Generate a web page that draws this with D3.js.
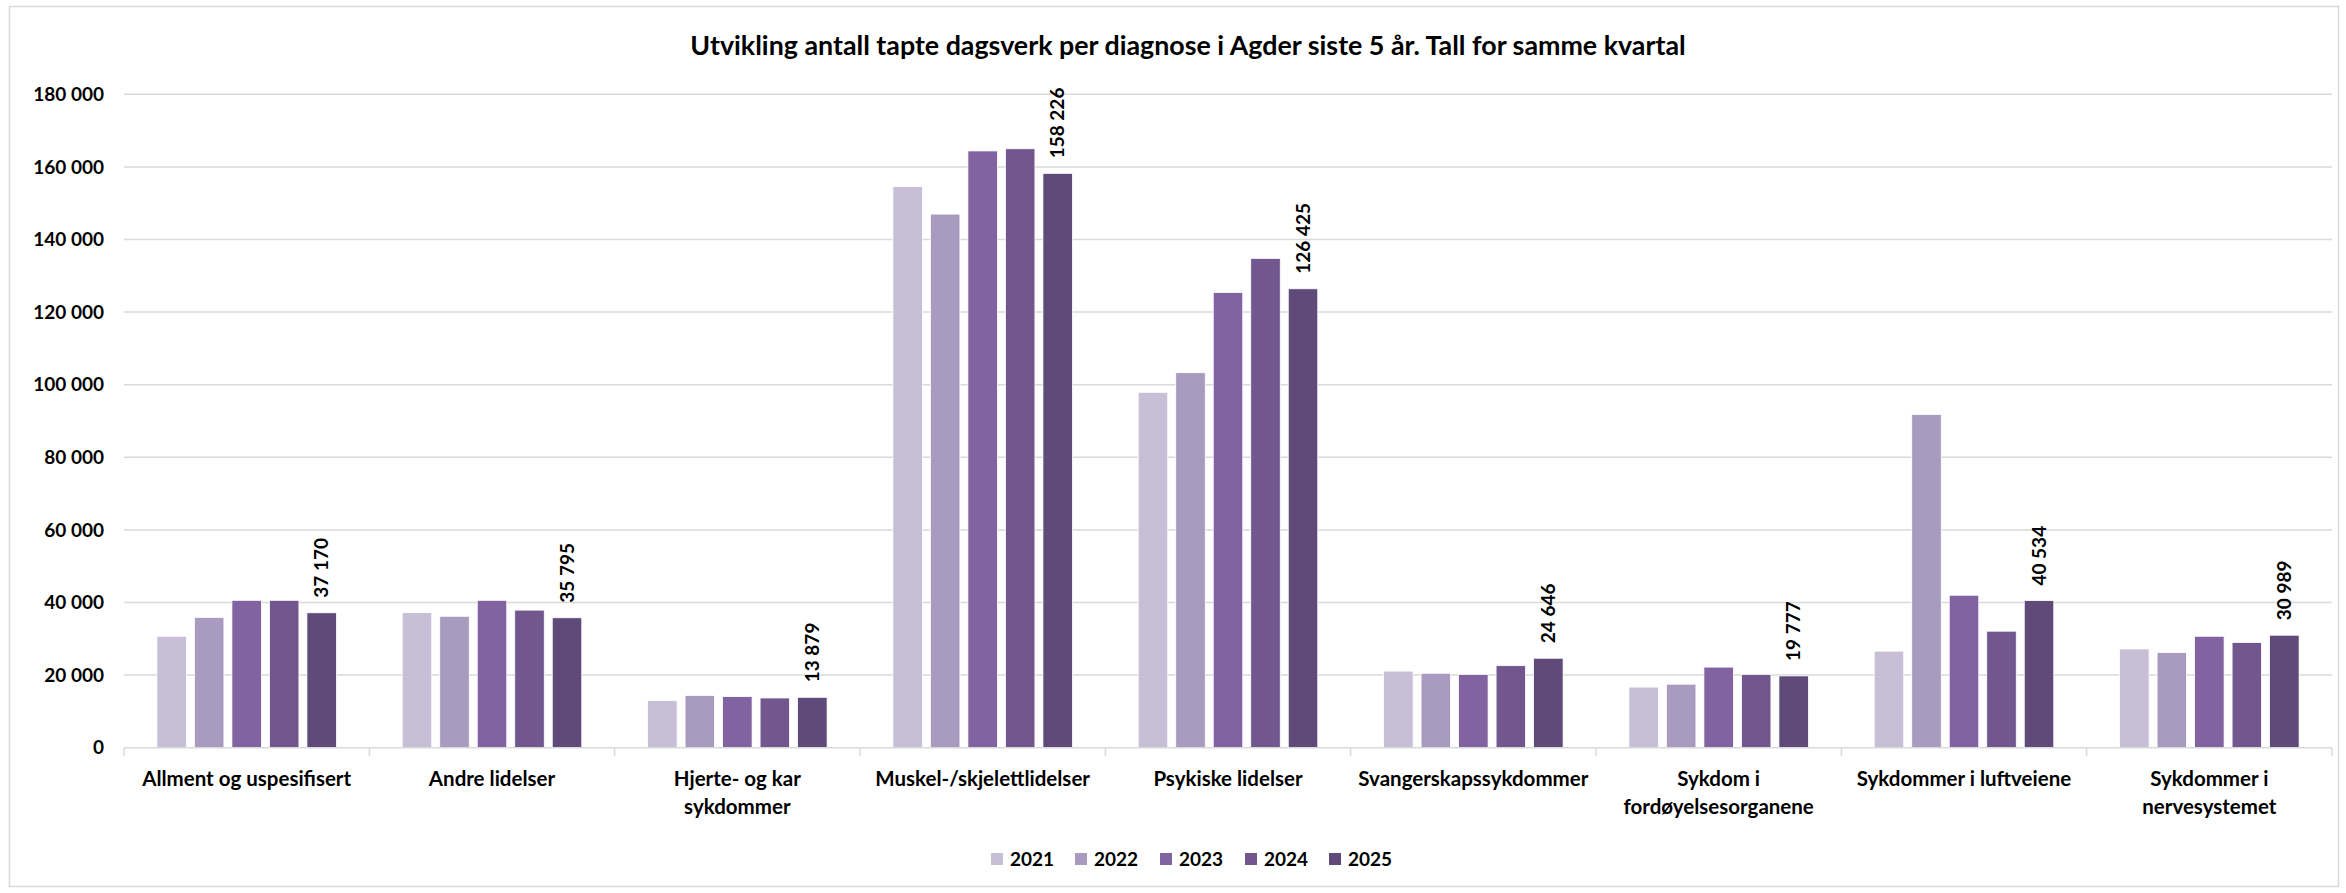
<!DOCTYPE html>
<html><head><meta charset="utf-8">
<script src="https://cdn.jsdelivr.net/npm/d3@7"></script>
<style>
html,body{margin:0;padding:0;background:#fff;}
svg{display:block;}
</style></head>
<body>
<script>
const title = "Utvikling antall tapte dagsverk per diagnose i Agder siste 5 år. Tall for samme kvartal";
const categories = ["Allment og uspesifisert","Andre lidelser","Hjerte- og kar sykdommer","Muskel-/skjelettlidelser","Psykiske lidelser","Svangerskapssykdommer","Sykdom i fordøyelsesorganene","Sykdommer i luftveiene","Sykdommer i nervesystemet"];
const categoryLines = [["Allment og uspesifisert"],["Andre lidelser"],["Hjerte- og kar","sykdommer"],["Muskel-/skjelettlidelser"],["Psykiske lidelser"],["Svangerskapssykdommer"],["Sykdom i","fordøyelsesorganene"],["Sykdommer i luftveiene"],["Sykdommer i","nervesystemet"]];
const years = ["2021","2022","2023","2024","2025"];
const v2021 = [30700, 37200, 13000, 154600, 97900, 21100, 16700, 26600, 27200];
const v2022 = [35900, 36200, 14400, 147000, 103300, 20500, 17500, 91800, 26200];
const v2023 = [40600, 40600, 14100, 164400, 125400, 20200, 22200, 42000, 30700];
const v2024 = [40600, 37900, 13700, 165000, 134800, 22600, 20200, 32100, 29000];
const v2025 = [37170, 35795, 13879, 158226, 126425, 24646, 19777, 40534, 30989];
const yTicks = [0,20000,40000,60000,80000,100000,120000,140000,160000,180000];
const colors = ["#c7bfd6","#a99bbf","#8063a0","#71578d","#5f4a79"];

(function(){
const series = [v2021,v2022,v2023,v2024,v2025];
const W = 2346, H = 893;
const FONT = "Lato, 'Open Sans', sans-serif";
const svg = d3.select("body").append("svg").attr("width",W).attr("height",H);

svg.append("rect").attr("x",9.5).attr("y",6.5).attr("width",2329).attr("height",880)
  .attr("fill","#fff").attr("stroke","#d9d9d9").attr("stroke-width",1.5);

const pLeft = 124, pRight = 2332, pTop = 94.3, pBottom = 747.7;
const y = d3.scaleLinear().domain([0,180000]).range([pBottom, pTop]);
const x0 = d3.scaleBand().domain(categories).range([pLeft,pRight]).padding(0);
const x1 = d3.scaleBand().domain(years).range([0,x0.bandwidth()]).paddingInner(0.213).paddingOuter(0.877);
const color = d3.scaleOrdinal().domain(years).range(colors);
const fmt = v => d3.format(",")(v).replace(/,/g," ");

svg.append("g").selectAll("line").data(yTicks.filter(d=>d>0)).join("line")
  .attr("x1",pLeft).attr("x2",pRight).attr("y1",d=>y(d)).attr("y2",d=>y(d))
  .attr("stroke","#d9d9d9").attr("stroke-width",1.5);

svg.append("g").selectAll("text").data(yTicks).join("text")
  .attr("x",104).attr("y",d=>y(d)).attr("dy","0.35em").attr("text-anchor","end")
  .attr("font-family",FONT).attr("font-weight","bold")
  .attr("font-size",19).attr("fill","#000").text(d=>fmt(d));

const groups = svg.append("g").selectAll("g").data(categories).join("g")
  .attr("transform",d=>`translate(${x0(d)},0)`);
groups.selectAll("rect").data((c,i)=>years.map((yr,j)=>({yr, v:series[j][i]}))).join("rect")
  .attr("x",d=>x1(d.yr)).attr("width",x1.bandwidth())
  .attr("y",d=>y(d.v)).attr("height",d=>y(0)-y(d.v))
  .attr("fill",d=>color(d.yr)).attr("stroke","#fff").attr("stroke-width",0.8);

groups.append("text")
  .attr("transform",(c,i)=>`translate(${x1("2025")+x1.bandwidth()/2},${y(v2025[i])-15}) rotate(-90)`)
  .attr("dy","0.35em").attr("text-anchor","start")
  .attr("font-family",FONT).attr("font-weight","bold")
  .attr("font-size",19).attr("fill","#000").text((c,i)=>fmt(v2025[i]));

svg.append("line").attr("x1",pLeft).attr("x2",pRight).attr("y1",pBottom).attr("y2",pBottom)
  .attr("stroke","#d9d9d9").attr("stroke-width",1.5);
const bounds = categories.map(c=>x0(c)).concat([pRight]);
svg.append("g").selectAll("line").data(bounds).join("line")
  .attr("x1",d=>d).attr("x2",d=>d).attr("y1",pBottom).attr("y2",pBottom+8)
  .attr("stroke","#d9d9d9").attr("stroke-width",1.5);

groups.each(function(c,i){
  const g = d3.select(this);
  categoryLines[i].forEach((line,k)=>{
    g.append("text").attr("x",x0.bandwidth()/2).attr("y",786+k*28)
      .attr("text-anchor","middle").attr("font-family",FONT).attr("font-weight","bold")
      .attr("font-size",20.5).attr("fill","#000").text(line);
  });
});

svg.append("text").attr("x",1188).attr("y",55).attr("text-anchor","middle")
  .attr("font-family",FONT).attr("font-weight","bold").attr("font-size",26.8)
  .attr("fill","#000").text(title);

const legX = [991,1075,1160,1245,1329];
const leg = svg.append("g").selectAll("g").data(years).join("g")
  .attr("transform",(d,i)=>`translate(${legX[i]},859)`);
leg.append("rect").attr("x",0).attr("y",-6).attr("width",12).attr("height",12).attr("fill",d=>color(d));
leg.append("text").attr("x",19).attr("y",0).attr("dy","0.36em")
  .attr("font-family",FONT).attr("font-weight","bold")
  .attr("font-size",19).attr("fill","#000").text(d=>d);
})();
</script>
</body></html>
